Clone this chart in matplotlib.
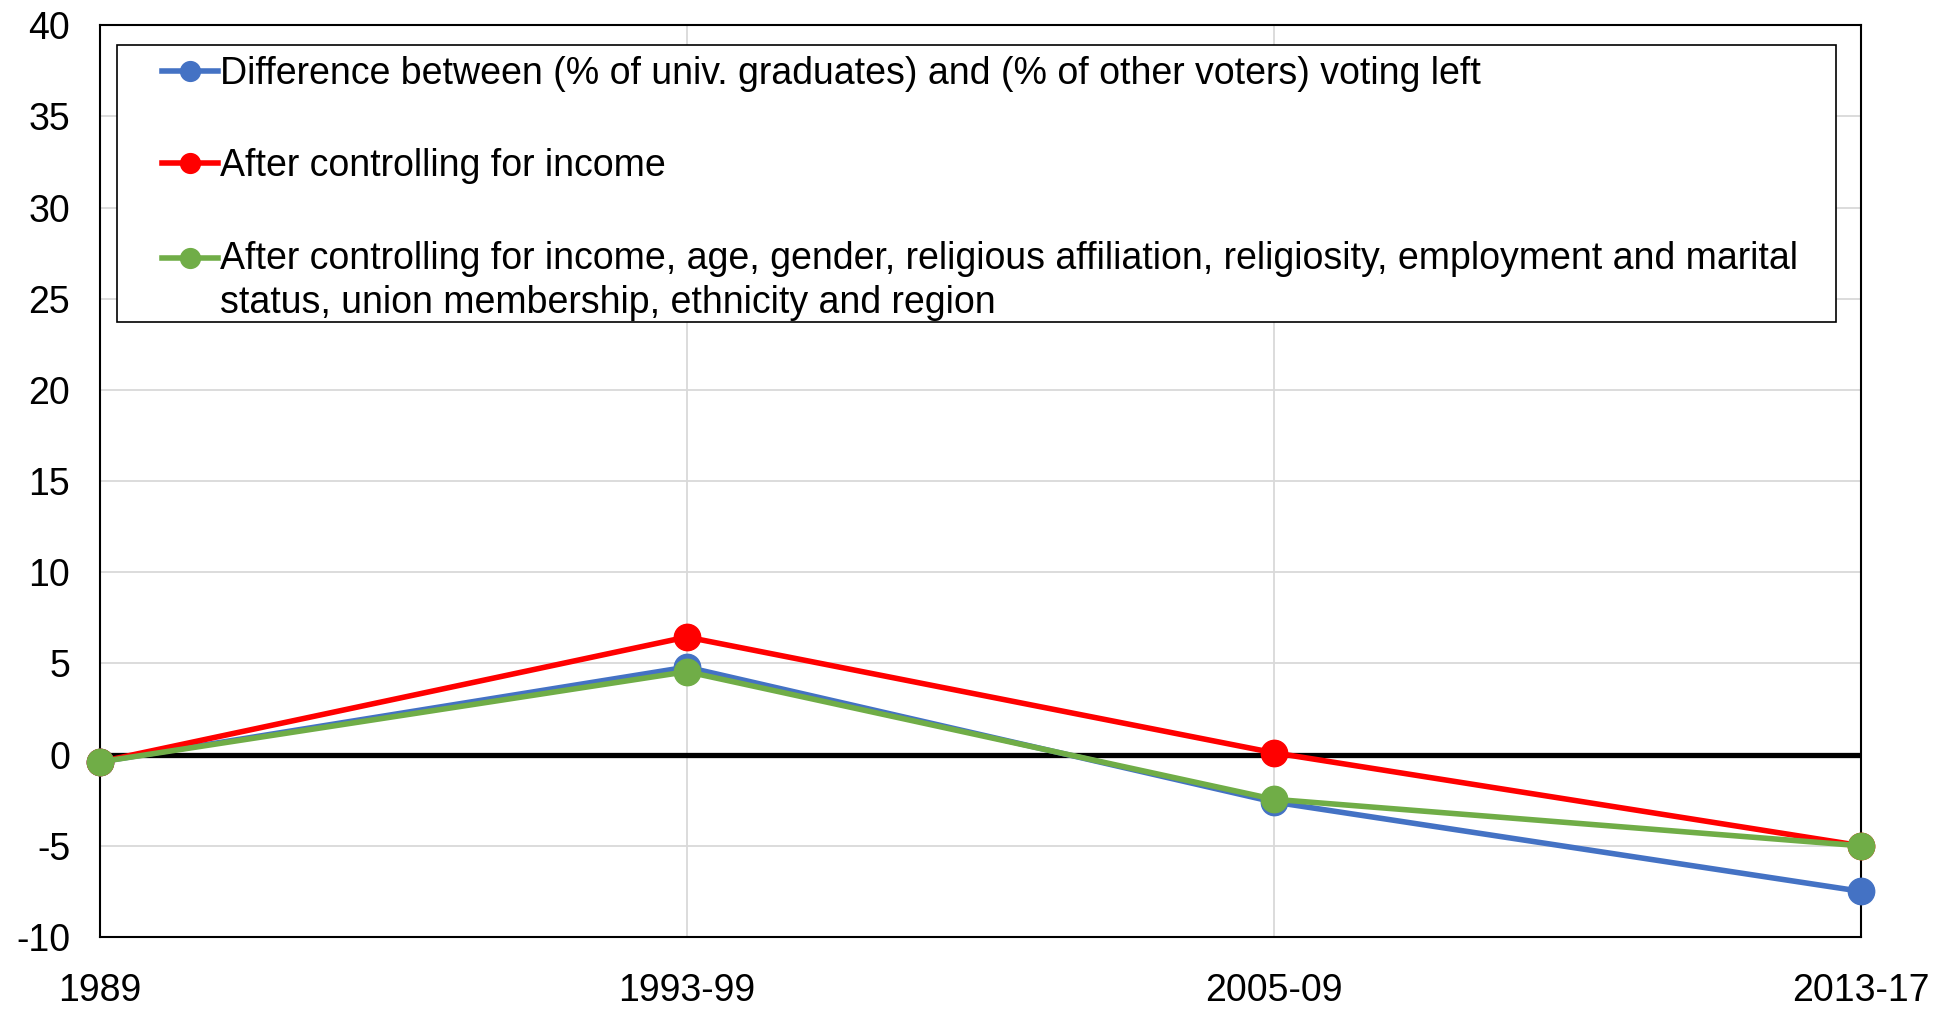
import matplotlib.pyplot as plt
from matplotlib.patches import Rectangle
from matplotlib.legend_handler import HandlerLine2D
import numpy as np

plt.rcParams['font.family'] = ['Liberation Sans', 'DejaVu Sans']
plt.rcParams['axes.unicode_minus'] = False

periods = ["1989", "1993-99", "2005-09", "2013-17"]
raw_diff = [-0.4, 4.8, -2.6, -7.5]
ctrl_income = [-0.4, 6.45, 0.1, -5.0]
ctrl_all = [-0.4, 4.55, -2.45, -5.0]

labels = ["Difference between (% of univ. graduates) and (% of other voters) voting left",
          "After controlling for income",
          "After controlling for income, age, gender, religious affiliation, religiosity, employment and marital\nstatus, union membership, ethnicity and region"]
colors = ["#4472C4", "#FF0000", "#70AD47"]


class UpHandler(HandlerLine2D):
    # puts the handle next to the first line of a two-line label
    def __init__(self, shift, **kw):
        super().__init__(**kw)
        self.shift = shift

    def create_artists(self, legend, orig_handle, xdescent, ydescent, width, height, fontsize, trans):
        return super().create_artists(legend, orig_handle, xdescent, ydescent - 2 * self.shift,
                                      width, height, fontsize, trans)


fig = plt.figure(figsize=(19.51, 10.10), dpi=100)
ax = fig.add_axes([0.051, 0.0723, 0.903, 0.9027])
x = np.arange(len(periods))

ax.axhline(0, color="black", lw=3.8, zorder=2)
lines = []
for vals, c, lab in zip([raw_diff, ctrl_income, ctrl_all], colors, labels):
    ln, = ax.plot(x, vals, color=c, lw=4.0, marker="o", ms=19, label=lab, zorder=3, clip_on=False)
    lines.append(ln)

ax.set_xlim(0, 3)
ax.set_ylim(-10, 40)
ax.set_yticks(np.arange(-10, 41, 5))
ax.set_xticks(x)
ax.set_xticklabels(periods)
ax.tick_params(axis="both", length=0, labelsize=27)
ax.tick_params(axis="x", pad=26)
ax.tick_params(axis="y", pad=21)
ax.grid(True, color="#d9d9d9", lw=1.3)
ax.set_axisbelow(True)
for s in ax.spines.values():
    s.set_color("black")
    s.set_linewidth(1.5)

# legend box drawn separately, legend itself without frame
ax.add_patch(Rectangle((0.0099, 0.675), 0.976, 0.303, transform=ax.transAxes,
                       facecolor="white", edgecolor="black", lw=1.2, zorder=4))
leg = ax.legend(loc="upper left", bbox_to_anchor=(0.0355, 0.966), fontsize=27,
                frameon=False, handlelength=1.5, handletextpad=0.05,
                labelspacing=1.5, borderpad=0, borderaxespad=0, markerscale=0.75,
                handler_map={lines[2]: UpHandler(shift=17)})
for t in leg.get_texts():
    t.set_linespacing(1.3)
leg.set_zorder(5)

plt.savefig("out.png", dpi=100)
